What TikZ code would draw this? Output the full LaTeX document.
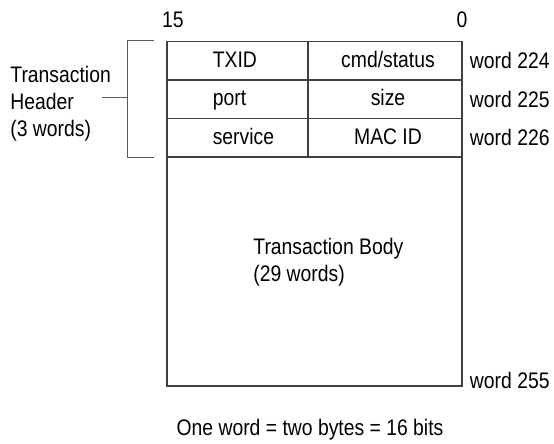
\documentclass[tikz,border=0pt]{standalone}
\usepackage{fontspec}
\setmainfont{Liberation Sans}[FakeStretch=0.86]
\tikzset{>=stealth}
\tikzset{
    lcell/.style={draw=black!75, line width=0.6pt, minimum width=70.5pt, minimum height=19.25pt, inner sep=0pt},
    rcell/.style={draw=black!75, line width=0.6pt, minimum width=77pt, minimum height=19.25pt, inner sep=0pt},
    celltxt/.style={anchor=base west, inner sep=0pt},
    rtxt/.style={anchor=base, inner sep=0pt},
    wordlbl/.style={anchor=west, inner sep=0pt},
    brace/.style={draw=black!65, line width=0.6pt},
}

\begin{document}
\begin{tikzpicture}[x=0.5pt,y=-0.5pt,font=\fontsize{11.25}{13.5}\selectfont]
        \useasboundingbox (0,0) rectangle (554,444);
        % bit numbers
        \node (msb) at (173,20) {15};
        \node (lsb) at (462,20) {0};
        % header words
        \node[lcell] (txid) at (237.5,60.75) {};
        \node[lcell] (port) at (237.5,99.25) {};
        \node[lcell] (service) at (237.5,137.75) {};
        \node[rcell] (cmd) at (385,60.75) {};
        \node[rcell] (size) at (385,99.25) {};
        \node[rcell] (macid) at (385,137.75) {};
        \node[celltxt] (txidtxt) at ([xshift=23pt, yshift=-3.2pt]txid.west) {TXID};
        \node[celltxt] (porttxt) at ([xshift=23pt, yshift=-3.2pt]port.west) {port};
        \node[celltxt] (servicetxt) at ([xshift=23pt, yshift=-3.2pt]service.west) {service};
        \node[rtxt] (cmdtxt) at ([xshift=1.5pt, yshift=-3.2pt]cmd.center) {cmd/status};
        \node[rtxt] (sizetxt) at ([xshift=1.5pt, yshift=-3.2pt]size.center) {size};
        \node[rtxt] (macidtxt) at ([xshift=1.5pt, yshift=-3.2pt]macid.center) {MAC ID};
        % body
        \node[draw=black!75, line width=0.6pt, minimum width=147.5pt, minimum height=114.5pt] (body) at (314.5,271.5) {};
        \node[align=left, anchor=west, inner sep=0pt] (bodytxt) at (253,262) {Transaction Body\\(29 words)};
        % word numbers
        \node[wordlbl] (w224) at ([xshift=3.5pt]cmd.east) {word 224};
        \node[wordlbl] (w225) at ([xshift=3.5pt]size.east) {word 225};
        \node[wordlbl] (w226) at ([xshift=3.5pt]macid.east) {word 226};
        \node[wordlbl, anchor=base west] (w255) at ([xshift=3.5pt, yshift=-1pt]body.south east) {word 255};
        % header bracket
        \draw[brace] ([xshift=-6pt]txid.north west) -| ([xshift=-19.5pt]service.south west) -- ([xshift=-6pt]service.south west);
        \coordinate (brk) at ([xshift=-19.5pt, yshift=1pt]port.west);
        \coordinate (stub) at ([xshift=-12.5pt]brk);
        \draw[brace] (stub) -- (brk);
        \node[align=left, anchor=west, inner sep=0pt] (hdr) at (10,104) {Transaction\\Header\\(3 words)};
        % note
        \node (note) at (310,430) {One word = two bytes = 16 bits};
    \end{tikzpicture}
\end{document}
